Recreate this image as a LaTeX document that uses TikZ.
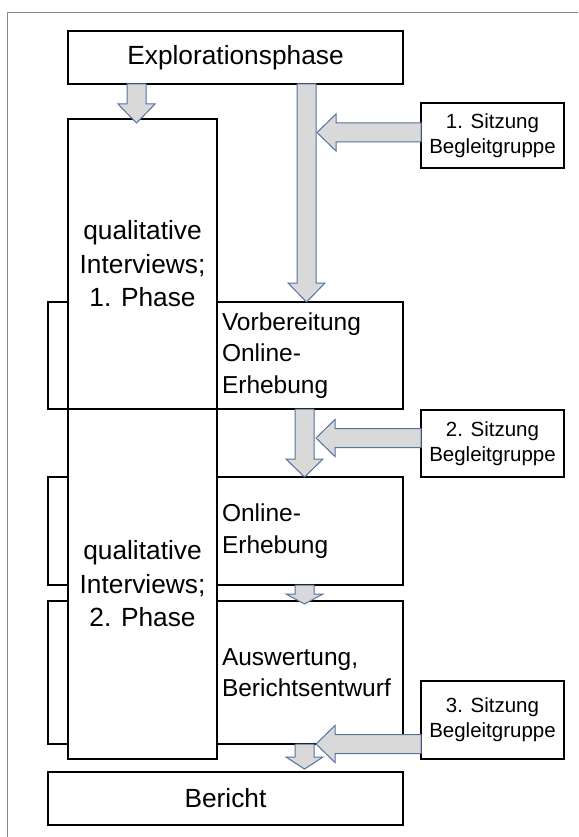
\documentclass[tikz,border=0pt]{standalone}
\usepackage{fontspec}
\setmainfont{Liberation Sans}
\usetikzlibrary{calc}
\definecolor{arrfill}{RGB}{217,217,217}
\definecolor{arrline}{RGB}{84,114,158}
\definecolor{framegray}{RGB}{136,136,136}
\tikzset{
  box/.style={draw=black, line width=2.7pt, fill=white, inner sep=0pt, outer sep=0pt},
  bigtext/.style={font=\fontsize{26.3}{33.5}\selectfont, align=center},
  midtext/.style={font=\fontsize{24.5}{31.5}\selectfont, align=left, text width=176pt, inner xsep=5pt},
  smalltext/.style={font=\fontsize{20.5}{25}\selectfont, align=center},
  blockarrow/.style={draw=arrline, fill=arrfill, line width=1pt, line join=miter},
}
% vertical block arrow: #1 start, #2 tip, #3 head length
\newcommand{\blkdown}[3]{%
  \draw[blockarrow] let \p1=#1, \p2=#2 in
    (\x2-9.5pt,\y1) -- (\x2+9.5pt,\y1) -- (\x2+9.5pt,\y2+#3) -- (\x2+18.5pt,\y2+#3)
    -- (\x2,\y2) -- (\x2-18.5pt,\y2+#3) -- (\x2-9.5pt,\y2+#3) -- cycle;}
% horizontal block arrow pointing left: #1 start, #2 tip, #3 head length
\newcommand{\blkleft}[3]{%
  \draw[blockarrow] let \p1=#1, \p2=#2 in
    (\x1,\y2+9.5pt) -- (\x2+#3,\y2+9.5pt) -- (\x2+#3,\y2+18.5pt) -- (\x2,\y2)
    -- (\x2+#3,\y2-18.5pt) -- (\x2+#3,\y2-9.5pt) -- (\x1,\y2-9.5pt) -- cycle;}
\begin{document}
\begin{tikzpicture}[x=1pt,y=-1pt]
\useasboundingbox (0,0) rectangle (578,837);
\fill[white] (0,0) rectangle (578,837);
% frame
\draw[framegray, line width=1.5pt] (7.3,837) -- (7.3,12.7) -- (578,12.7);

% back boxes
\node[box, minimum width=355pt, minimum height=107pt] (back1) at (225.5,355.5) {};
\node[box, minimum width=355pt, minimum height=108pt] (back2) at (225.5,531) {};
\node[box, minimum width=355pt, minimum height=143pt] (back3) at (225.5,672.5) {};

% qualitative interview boxes
\node[box, bigtext, minimum width=149pt, minimum height=290pt] (qual1) at (142.5,264)
  {qualitative\\Interviews;\\1. Phase};
\node[box, bigtext, minimum width=149pt, minimum height=350pt] (qual2) at (142.5,584)
  {qualitative\\Interviews;\\2. Phase};

% right boxes
\node[box, midtext, minimum height=107pt] (vorb) at (310,355.5)
  {Vorbereitung\\Online-\\Erhebung};
\node[box, midtext, minimum height=108pt] (online) at (310,531)
  {Online-\\Erhebung};
\node[box, midtext, minimum height=143pt] (ausw) at (310,672.5)
  {Auswertung,\\Berichtsentwurf};

% top and bottom boxes
\node[box, bigtext, minimum width=335pt, minimum height=53pt] (expl) at (235.5,57.5)
  {Explorationsphase};
\node[box, bigtext, minimum width=355pt, minimum height=53pt] (bericht) at (225.5,798.5)
  {Bericht};

% Sitzung boxes
\node[box, smalltext, minimum width=143pt, minimum height=65pt] (s1) at (492.5,135.5)
  {1. Sitzung\\Begleitgruppe};
\node[box, smalltext, minimum width=143pt, minimum height=67pt] (s2) at (492.5,443.5)
  {2. Sitzung\\Begleitgruppe};
\node[box, smalltext, minimum width=143pt, minimum height=78pt] (s3) at (492.5,720)
  {3. Sitzung\\Begleitgruppe};

% helper coordinates
\coordinate (a1) at (136.5,123);
\coordinate (cola) at (306.5,0);
\coordinate (colb) at (304.5,0);
\coordinate (h1) at (317,132.5);
\coordinate (h2) at (316,438);
\coordinate (h3) at (316,744);

% arrows
\blkdown{(expl.south -| a1)}{(a1)}{19pt}
\blkdown{(expl.south -| cola)}{(vorb.north -| cola)}{19pt}
\blkdown{(vorb.south -| colb)}{(online.north -| colb)}{18pt}
\blkdown{(online.south -| colb)}{($(ausw.north -| colb)+(0,3)$)}{10pt}
\blkdown{(ausw.south -| colb)}{($(bericht.north -| colb)+(0,-3)$)}{12pt}
\blkleft{(s1.west |- h1)}{(h1)}{19pt}
\blkleft{(s2.west |- h2)}{(h2)}{19pt}
\blkleft{(s3.west |- h3)}{(h3)}{19pt}
\end{tikzpicture}
\end{document}
